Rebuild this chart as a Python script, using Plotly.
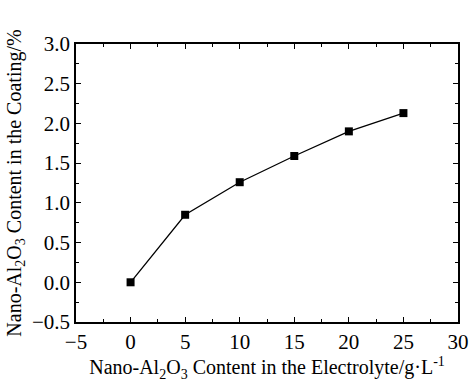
import plotly.graph_objects as go

x_vals = [0, 5, 10, 15, 20, 25]
y_vals = [0.0, 0.85, 1.26, 1.59, 1.90, 2.13]

font_family = "Liberation Serif, Times New Roman, serif"

fig = go.Figure()
fig.add_trace(go.Scatter(
    x=x_vals, y=y_vals, mode="lines+markers",
    line=dict(color="black", width=1.3),
    marker=dict(symbol="square", size=8, color="black"),
    showlegend=False,
))

axis_common = dict(
    showline=True, linecolor="black", linewidth=1.5, mirror="allticks",
    ticks="inside", ticklen=5, tickwidth=1.2, tickcolor="black",
    showgrid=False, zeroline=False, automargin=False,
    tickfont=dict(family=font_family, size=21, color="black"),
    minor=dict(ticks="inside", ticklen=3, tickwidth=1, tickcolor="black", showgrid=False),
)

fig.update_xaxes(
    range=[-5, 30], dtick=5, tick0=-5, minor_dtick=2.5,
    ticklabelstandoff=0,
    title=dict(text="Nano-Al<sub>2</sub>O<sub>3</sub> Content in the Electrolyte/g·L<sup>-1</sup>",
               font=dict(family=font_family, size=20, color="black"), standoff=2),
    **axis_common,
)
fig.update_yaxes(
    range=[-0.5, 3.0], dtick=0.5, tick0=-0.5, minor_dtick=0.25, tickformat=".1f",
    ticklabelstandoff=0,
    title=dict(text="Nano-Al<sub>2</sub>O<sub>3</sub> Content in the Coating/%",
               font=dict(family=font_family, size=20, color="black"), standoff=5),
    **axis_common,
)

fig.update_layout(
    width=473, height=386,
    margin=dict(l=76, r=15, t=44, b=64),
    plot_bgcolor="white", paper_bgcolor="white",
    font=dict(family=font_family, color="black"),
)

fig.write_html("out.html", config={"displayModeBar": False},
               post_script="document.body.style.margin='0';")
